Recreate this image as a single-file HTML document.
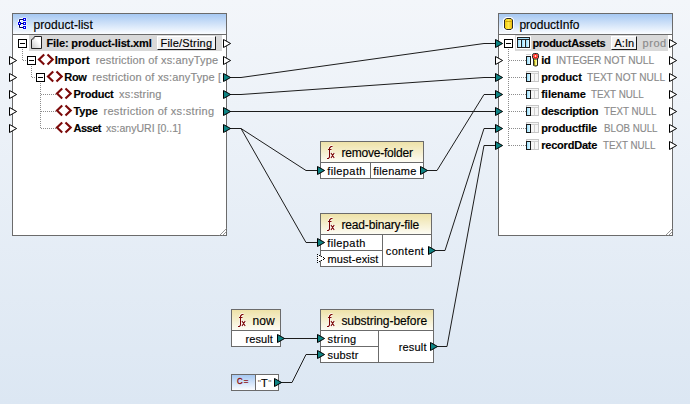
<!DOCTYPE html>
<html><head><meta charset="utf-8">
<style>
*{margin:0;padding:0;box-sizing:border-box}
html,body{width:690px;height:404px;overflow:hidden}
body{position:relative;background:linear-gradient(#f3f6fa,#dce7f3);font-family:"Liberation Sans",sans-serif;color:#000;-webkit-text-stroke:0.15px currentColor}
.box{position:absolute;border:1px solid #6b6b6b;background:#fff}
.tb{position:absolute;left:0;right:0;top:0;border-bottom:1px solid #6b6b6b}
.sch{background:linear-gradient(#a6c8f2,#fbfdff)}
.fn{background:linear-gradient(#eee2a8,#fdfcf4)}
.r{position:absolute}
.t{position:absolute;font-size:11px;line-height:12px;white-space:nowrap;z-index:5}
.b{font-weight:bold}
.g{color:#8a8a8a}
.tt{position:absolute;font-size:12px;line-height:14px;white-space:nowrap;z-index:5}
svg{position:absolute;left:0;top:0}
</style></head><body>

<svg width="690" height="404" style="z-index:1">
<g fill="none" stroke="#1c1c1c" stroke-width="1">
<polyline points="226,77.5 241,77.5 484,43.5 498,43.5"/><polyline points="226,94.5 241,94.5 484,77.5 498,77.5"/><polyline points="226,111.5 498,111.5"/><polyline points="226,128.5 241,128.5 306,170.5 320,170.5"/><polyline points="226,128.5 241,128.5 306,242.5 320,242.5"/><polyline points="423,170.5 437,170.5 484,94.5 498,94.5"/><polyline points="431,250.5 445,250.5 484,128.5 498,128.5"/><polyline points="280,338.5 320,338.5"/><polyline points="278,382.5 292,382.5 306,354.5 320,354.5"/><polyline points="433,346.5 447,346.5 484,145.5 498,145.5"/>
</g>
</svg>

<!-- product-list -->
<div class="box" style="left:12px;top:13px;width:215px;height:223px;z-index:2"><div class="tb sch" style="height:21px"></div></div>
<div class="r" style="left:29px;top:35px;width:193px;height:16px;background:#d9d9d9;z-index:3"></div>
<div class="r" style="left:157px;top:36px;width:59px;height:14px;background:#f2f2f2;border-top:1px solid #fff;border-left:1px solid #fff;border-right:1px solid #1a1a1a;border-bottom:1px solid #1a1a1a;z-index:3"></div>

<!-- productInfo -->
<div class="box" style="left:498px;top:13px;width:175px;height:223px;z-index:2"><div class="tb sch" style="height:21px"></div></div>
<div class="r" style="left:515px;top:35px;width:153px;height:16px;background:#d9d9d9;z-index:3"></div>
<div class="r" style="left:516px;top:36px;width:15px;height:13px;background:#fff;z-index:3"></div>
<div class="r" style="left:611px;top:36px;width:26px;height:14px;background:#f2f2f2;border-top:1px solid #fff;border-left:1px solid #fff;border-right:1px solid #1a1a1a;border-bottom:1px solid #1a1a1a;z-index:3"></div>

<!-- remove-folder -->
<div class="box" style="left:320px;top:141px;width:104px;height:38px;z-index:2"><div class="tb fn" style="height:21px"></div>
<div class="r" style="left:49px;top:21px;width:1px;height:16px;background:#6b6b6b"></div></div>

<!-- read-binary-file -->
<div class="box" style="left:320px;top:213px;width:112px;height:54px;z-index:2"><div class="tb fn" style="height:21px"></div>
<div class="r" style="left:61px;top:21px;width:1px;height:32px;background:#6b6b6b"></div>
<div class="r" style="left:0px;top:36px;width:61px;height:1px;background:#6b6b6b"></div></div>

<!-- now -->
<div class="box" style="left:231px;top:309px;width:50px;height:38px;z-index:2"><div class="tb fn" style="height:21px"></div></div>

<!-- substring-before -->
<div class="box" style="left:320px;top:309px;width:114px;height:54px;z-index:2"><div class="tb fn" style="height:21px"></div>
<div class="r" style="left:57px;top:21px;width:1px;height:32px;background:#6b6b6b"></div>
<div class="r" style="left:0px;top:36px;width:57px;height:1px;background:#6b6b6b"></div></div>

<!-- constant -->
<div class="box" style="left:231px;top:374px;width:48px;height:17px;z-index:2">
<div class="r sch" style="left:0;top:0;width:24px;height:15px;border-right:1px solid #6b6b6b"></div></div>
<div class="t" style="left:236.5px;top:376px;font-size:9.5px;line-height:10px;color:#8b0a0a;z-index:5;-webkit-text-stroke:0.35px #8b0a0a;transform:scaleX(0.82);transform-origin:0 0;letter-spacing:1.4px">C=</div>
<div class="t" style="left:257.8px;top:377px;z-index:5"><span style="color:#666;font-size:9px;-webkit-text-stroke:0;position:relative;top:-1px">"</span><span style="letter-spacing:0.4px">T</span><span style="color:#666;font-size:9px;-webkit-text-stroke:0;position:relative;top:-1px">"</span></div>

<svg width="690" height="404" style="z-index:4">
<g><path d="M19.5,19.5 V27.5 M19.5,19.5 H24 M19.5,23.5 H24 M19.5,27.5 H24" stroke="#fff" stroke-width="3" fill="none" opacity="0.9"/><g fill="#fff" stroke="#fff" stroke-width="2.2" stroke-linejoin="round" opacity="0.9"><rect x="23.5" y="18.5" width="2" height="2"/><rect x="18.5" y="22.5" width="2" height="2"/><rect x="23.5" y="22.5" width="2" height="2"/><rect x="23.5" y="26.5" width="2" height="2"/></g><path d="M19.5,19.5 V27.5 M19.5,19.5 H24 M19.5,23.5 H24 M19.5,27.5 H24" stroke="#000050" stroke-width="1" fill="none"/><rect x="23.5" y="18.5" width="2" height="2" fill="#fff" stroke="#0000f0"/><rect x="18.5" y="22.5" width="2" height="2" fill="#fff" stroke="#0000f0"/><rect x="23.5" y="22.5" width="2" height="2" fill="#fff" stroke="#0000f0"/><rect x="23.5" y="26.5" width="2" height="2" fill="#fff" stroke="#0000f0"/></g><defs><linearGradient id="dg" x1="1" y1="0" x2="0" y2="1"><stop offset="0.35" stop-color="#fff"/><stop offset="1" stop-color="#c4c4c4"/></linearGradient><linearGradient id="tg" x1="0" y1="0" x2="0" y2="1"><stop offset="0" stop-color="#8fd6ff"/><stop offset="1" stop-color="#e6f9ff"/></linearGradient><linearGradient id="cg" x1="0" y1="0" x2="1" y2="0"><stop offset="0" stop-color="#8fdcff"/><stop offset="1" stop-color="#e8fbff"/></linearGradient><linearGradient id="cyl" x1="0" y1="0" x2="1" y2="0"><stop offset="0" stop-color="#f0c400"/><stop offset="0.5" stop-color="#ffe84a"/><stop offset="1" stop-color="#e8b400"/></linearGradient></defs><path d="M34.5,36.5 H41.5 V48.5 H31.5 V39.5 Z" fill="url(#dg)" stroke="#222"/><path d="M31.5,39.5 Q34.5,39.5 34.5,36.5" fill="#fff" stroke="#444"/><path d="M506.5,18.5 H511 L512.5,20 V28 L511,29.5 H506.5 L504.5,28 V20 Z" fill="none" stroke="#fff" stroke-width="3" stroke-linejoin="round"/><path d="M506.5,18.5 H511 L512.5,20 V28 L511,29.5 H506.5 L504.5,28 V20 Z" fill="url(#cyl)" stroke="#2a2a2a"/><path d="M505.5,21.5 H511.5" stroke="#c49a00" stroke-width="1" opacity="0.8"/><rect x="517.5" y="37.5" width="12" height="10" fill="#a8e0fa" stroke="#222"/><rect x="518" y="40" width="3" height="7" fill="url(#cg)"/><rect x="522" y="40" width="3" height="7" fill="url(#cg)"/><rect x="526" y="40" width="3" height="7" fill="url(#cg)"/><line x1="518" y1="39.5" x2="529" y2="39.5" stroke="#222"/><line x1="521.5" y1="40" x2="521.5" y2="47" stroke="#222"/><line x1="525.5" y1="40" x2="525.5" y2="47" stroke="#222"/><rect x="526" y="54" width="5" height="1" fill="#d4d4d4"/><rect x="526.5" y="56.5" width="4" height="8" fill="url(#cg)" stroke="#1a1a1a"/><path d="M533.5,65.5 V59" stroke="#222" stroke-width="1"/><path d="M533.5,58.5 H537.5 V65.5 L536,66 H534.5 L533.5,65 L534.3,64 L533.5,63 L534.3,62 L533.5,61 Z" fill="#e6dc1c" stroke="#222" stroke-width="1"/><rect x="535.5" y="59" width="1.5" height="6" fill="#fbf7a0"/><rect x="532.5" y="53.5" width="6" height="5.5" rx="1.8" fill="#ffa282" stroke="#222"/><circle cx="535.5" cy="56.2" r="1.7" fill="none" stroke="#ff1010" stroke-width="1.1"/><rect x="535" y="55.5" width="1" height="1" fill="#fff"/><rect x="526.5" y="71.5" width="12" height="10" fill="#f6f6f6" stroke="#c6c6c6"/><line x1="527" y1="73.5" x2="538" y2="73.5" stroke="#d0d0d0"/><line x1="534.5" y1="74" x2="534.5" y2="81" stroke="#d0d0d0"/><rect x="526.5" y="73.5" width="4" height="8" fill="url(#cg)" stroke="#1a1a1a"/><rect x="526.5" y="88.5" width="12" height="10" fill="#f6f6f6" stroke="#c6c6c6"/><line x1="527" y1="90.5" x2="538" y2="90.5" stroke="#d0d0d0"/><line x1="534.5" y1="91" x2="534.5" y2="98" stroke="#d0d0d0"/><rect x="526.5" y="90.5" width="4" height="8" fill="url(#cg)" stroke="#1a1a1a"/><rect x="526.5" y="105.5" width="12" height="10" fill="#f6f6f6" stroke="#c6c6c6"/><line x1="527" y1="107.5" x2="538" y2="107.5" stroke="#d0d0d0"/><line x1="534.5" y1="108" x2="534.5" y2="115" stroke="#d0d0d0"/><rect x="526.5" y="107.5" width="4" height="8" fill="url(#cg)" stroke="#1a1a1a"/><rect x="526.5" y="122.5" width="12" height="10" fill="#f6f6f6" stroke="#c6c6c6"/><line x1="527" y1="124.5" x2="538" y2="124.5" stroke="#d0d0d0"/><line x1="534.5" y1="125" x2="534.5" y2="132" stroke="#d0d0d0"/><rect x="526.5" y="124.5" width="4" height="8" fill="url(#cg)" stroke="#1a1a1a"/><rect x="526.5" y="139.5" width="12" height="10" fill="#f6f6f6" stroke="#c6c6c6"/><line x1="527" y1="141.5" x2="538" y2="141.5" stroke="#d0d0d0"/><line x1="534.5" y1="142" x2="534.5" y2="149" stroke="#d0d0d0"/><rect x="526.5" y="141.5" width="4" height="8" fill="url(#cg)" stroke="#1a1a1a"/><path d="M332.5,146.5 H331 L329.5,148 V157 L328.5,158.5 H327 M328,149.5 H331.5 M331,153 L334.2,158 M334.2,153 L331,158" fill="none" stroke="#fff" stroke-width="3" opacity="0.7"/><path d="M332.5,146.5 H331 L329.5,148 V157 L328.5,158.5 H327 M328,149.5 H331.5 M331,153 L334.2,158 M334.2,153 L331,158" fill="none" stroke="#7a0505" stroke-width="1.1"/><path d="M332.5,218.5 H331 L329.5,220 V229 L328.5,230.5 H327 M328,221.5 H331.5 M331,225 L334.2,230 M334.2,225 L331,230" fill="none" stroke="#fff" stroke-width="3" opacity="0.7"/><path d="M332.5,218.5 H331 L329.5,220 V229 L328.5,230.5 H327 M328,221.5 H331.5 M331,225 L334.2,230 M334.2,225 L331,230" fill="none" stroke="#7a0505" stroke-width="1.1"/><path d="M243.5,314.5 H242 L240.5,316 V325 L239.5,326.5 H238 M239,317.5 H242.5 M242,321 L245.2,326 M245.2,321 L242,326" fill="none" stroke="#fff" stroke-width="3" opacity="0.7"/><path d="M243.5,314.5 H242 L240.5,316 V325 L239.5,326.5 H238 M239,317.5 H242.5 M242,321 L245.2,326 M245.2,321 L242,326" fill="none" stroke="#7a0505" stroke-width="1.1"/><path d="M332.5,314.5 H331 L329.5,316 V325 L328.5,326.5 H327 M328,317.5 H331.5 M331,321 L334.2,326 M334.2,321 L331,326" fill="none" stroke="#fff" stroke-width="3" opacity="0.7"/><path d="M332.5,314.5 H331 L329.5,316 V325 L328.5,326.5 H327 M328,317.5 H331.5 M331,321 L334.2,326 M334.2,321 L331,326" fill="none" stroke="#7a0505" stroke-width="1.1"/><line x1="219.5" y1="235.5" x2="226.5" y2="228.5" stroke="#8a8a8a" stroke-width="0.9"/><line x1="222.5" y1="235.5" x2="226.5" y2="231.5" stroke="#8a8a8a" stroke-width="0.9"/><line x1="665.5" y1="235.5" x2="672.5" y2="228.5" stroke="#8a8a8a" stroke-width="0.9"/><line x1="668.5" y1="235.5" x2="672.5" y2="231.5" stroke="#8a8a8a" stroke-width="0.9"/>
<line x1="22.5" y1="49" x2="22.5" y2="61" stroke="#8c8c8c" stroke-dasharray="1,1"/><line x1="23" y1="60.5" x2="27" y2="60.5" stroke="#8c8c8c" stroke-dasharray="1,1"/><line x1="31.5" y1="66" x2="31.5" y2="78" stroke="#8c8c8c" stroke-dasharray="1,1"/><line x1="32" y1="77.5" x2="36" y2="77.5" stroke="#8c8c8c" stroke-dasharray="1,1"/><line x1="40.5" y1="83" x2="40.5" y2="129" stroke="#8c8c8c" stroke-dasharray="1,1"/><line x1="41" y1="94.5" x2="56" y2="94.5" stroke="#8c8c8c" stroke-dasharray="1,1"/><line x1="41" y1="111.5" x2="56" y2="111.5" stroke="#8c8c8c" stroke-dasharray="1,1"/><line x1="41" y1="128.5" x2="56" y2="128.5" stroke="#8c8c8c" stroke-dasharray="1,1"/><line x1="508.5" y1="49" x2="508.5" y2="146" stroke="#8c8c8c" stroke-dasharray="1,1"/><line x1="509" y1="60.5" x2="526" y2="60.5" stroke="#8c8c8c" stroke-dasharray="1,1"/><line x1="509" y1="77.5" x2="526" y2="77.5" stroke="#8c8c8c" stroke-dasharray="1,1"/><line x1="509" y1="94.5" x2="526" y2="94.5" stroke="#8c8c8c" stroke-dasharray="1,1"/><line x1="509" y1="111.5" x2="526" y2="111.5" stroke="#8c8c8c" stroke-dasharray="1,1"/><line x1="509" y1="128.5" x2="526" y2="128.5" stroke="#8c8c8c" stroke-dasharray="1,1"/><line x1="509" y1="145.5" x2="526" y2="145.5" stroke="#8c8c8c" stroke-dasharray="1,1"/><rect x="18.5" y="39.5" width="8" height="8" fill="#fff" stroke="#000"/><line x1="20" y1="43.5" x2="25" y2="43.5" stroke="#000"/><rect x="27.5" y="56.5" width="8" height="8" fill="#fff" stroke="#000"/><line x1="29" y1="60.5" x2="34" y2="60.5" stroke="#000"/><rect x="36.5" y="73.5" width="8" height="8" fill="#fff" stroke="#000"/><line x1="38" y1="77.5" x2="43" y2="77.5" stroke="#000"/><rect x="504.5" y="39.5" width="8" height="8" fill="#fff" stroke="#000"/><line x1="506" y1="43.5" x2="511" y2="43.5" stroke="#000"/><polyline points="44.2,54.4 39,59.4 44.2,64.4" fill="none" stroke="#7b0909" stroke-width="2.15"/><polyline points="47.5,54.4 52.7,59.4 47.5,64.4" fill="none" stroke="#7b0909" stroke-width="2.15"/><polyline points="53.2,71.4 48,76.4 53.2,81.4" fill="none" stroke="#7b0909" stroke-width="2.15"/><polyline points="56.5,71.4 61.7,76.4 56.5,81.4" fill="none" stroke="#7b0909" stroke-width="2.15"/><polyline points="62.2,88.4 57,93.4 62.2,98.4" fill="none" stroke="#7b0909" stroke-width="2.15"/><polyline points="65.5,88.4 70.7,93.4 65.5,98.4" fill="none" stroke="#7b0909" stroke-width="2.15"/><polyline points="62.2,105.4 57,110.4 62.2,115.4" fill="none" stroke="#7b0909" stroke-width="2.15"/><polyline points="65.5,105.4 70.7,110.4 65.5,115.4" fill="none" stroke="#7b0909" stroke-width="2.15"/><polyline points="62.2,122.4 57,127.4 62.2,132.4" fill="none" stroke="#7b0909" stroke-width="2.15"/><polyline points="65.5,122.4 70.7,127.4 65.5,132.4" fill="none" stroke="#7b0909" stroke-width="2.15"/>
<g stroke="#000" stroke-width="1" stroke-linejoin="miter"><polygon points="9.5,56.5 16.6,60.5 9.5,64.5" fill="#fff"/><polygon points="9.5,73.5 16.6,77.5 9.5,81.5" fill="#fff"/><polygon points="9.5,90.5 16.6,94.5 9.5,98.5" fill="#fff"/><polygon points="9.5,107.5 16.6,111.5 9.5,115.5" fill="#fff"/><polygon points="9.5,124.5 16.6,128.5 9.5,132.5" fill="#fff"/><polygon points="223.5,39.5 230.6,43.5 223.5,47.5" fill="#fff"/><polygon points="223.5,56.5 230.6,60.5 223.5,64.5" fill="#fff"/><polygon points="223.5,73.5 230.6,77.5 223.5,81.5" fill="#0e8383"/><polygon points="223.5,90.5 230.6,94.5 223.5,98.5" fill="#0e8383"/><polygon points="223.5,107.5 230.6,111.5 223.5,115.5" fill="#0e8383"/><polygon points="223.5,124.5 230.6,128.5 223.5,132.5" fill="#0e8383"/><polygon points="495.5,39.5 502.6,43.5 495.5,47.5" fill="#0e8383"/><polygon points="495.5,56.5 502.6,60.5 495.5,64.5" fill="#fff"/><polygon points="495.5,73.5 502.6,77.5 495.5,81.5" fill="#0e8383"/><polygon points="495.5,90.5 502.6,94.5 495.5,98.5" fill="#0e8383"/><polygon points="495.5,107.5 502.6,111.5 495.5,115.5" fill="#0e8383"/><polygon points="495.5,124.5 502.6,128.5 495.5,132.5" fill="#0e8383"/><polygon points="495.5,141.5 502.6,145.5 495.5,149.5" fill="#0e8383"/><polygon points="669.5,39.5 676.6,43.5 669.5,47.5" fill="#fff"/><polygon points="669.5,56.5 676.6,60.5 669.5,64.5" fill="#fff"/><polygon points="669.5,73.5 676.6,77.5 669.5,81.5" fill="#fff"/><polygon points="669.5,90.5 676.6,94.5 669.5,98.5" fill="#fff"/><polygon points="669.5,107.5 676.6,111.5 669.5,115.5" fill="#fff"/><polygon points="669.5,124.5 676.6,128.5 669.5,132.5" fill="#fff"/><polygon points="669.5,141.5 676.6,145.5 669.5,149.5" fill="#fff"/><polygon points="317.5,166.5 324.6,170.5 317.5,174.5" fill="#0e8383"/><polygon points="420.5,166.5 427.6,170.5 420.5,174.5" fill="#0e8383"/><polygon points="317.5,238.5 324.6,242.5 317.5,246.5" fill="#0e8383"/><polygon points="318,255 324,258.5 318,262" fill="#fff" stroke="none"/><rect x="317" y="254" width="1" height="1" fill="#000" stroke="none"/><rect x="317" y="256" width="1" height="1" fill="#000" stroke="none"/><rect x="317" y="258" width="1" height="1" fill="#000" stroke="none"/><rect x="317" y="260" width="1" height="1" fill="#000" stroke="none"/><rect x="317" y="262" width="1" height="1" fill="#000" stroke="none"/><rect x="319" y="255" width="1" height="1" fill="#000" stroke="none"/><rect x="321" y="256" width="1" height="1" fill="#000" stroke="none"/><rect x="323" y="257" width="1" height="1" fill="#000" stroke="none"/><rect x="324" y="258" width="1" height="1" fill="#000" stroke="none"/><rect x="323" y="259" width="1" height="1" fill="#000" stroke="none"/><rect x="321" y="260" width="1" height="1" fill="#000" stroke="none"/><rect x="319" y="261" width="1" height="1" fill="#000" stroke="none"/><polygon points="428.5,246.5 435.6,250.5 428.5,254.5" fill="#0e8383"/><polygon points="277.5,334.5 284.6,338.5 277.5,342.5" fill="#0e8383"/><polygon points="317.5,334.5 324.6,338.5 317.5,342.5" fill="#0e8383"/><polygon points="317.5,350.5 324.6,354.5 317.5,358.5" fill="#0e8383"/><polygon points="430.5,342.5 437.6,346.5 430.5,350.5" fill="#0e8383"/><polygon points="274.5,378.5 281.6,382.5 274.5,386.5" fill="#0e8383"/></g>
</svg>

<div class="tt" style="left:33.5px;top:18px;letter-spacing:0.05px;">product-list</div><div class="t b" style="left:46.5px;top:37px;letter-spacing:-0.14px;">File: product-list.xml</div><div class="t" style="left:160.5px;top:37px;letter-spacing:0.20px;">File/String</div><div class="t b" style="left:54.7px;top:54px;letter-spacing:0.13px;">Import</div><div class="t g" style="left:95.7px;top:54px;letter-spacing:0.16px;">restriction of xs:anyType</div><div class="t b" style="left:64.3px;top:71px;letter-spacing:-0.34px;">Row</div><div class="t g" style="left:92.3px;top:71px;letter-spacing:0.16px;">restriction of xs:anyType [</div><div class="t b" style="left:73.5px;top:88px;letter-spacing:-0.22px;">Product</div><div class="t g" style="left:119.1px;top:88px;letter-spacing:0.18px;">xs:string</div><div class="t b" style="left:73.5px;top:105px;letter-spacing:-0.16px;">Type</div><div class="t g" style="left:103.5px;top:105px;letter-spacing:0.29px;">restriction of xs:string</div><div class="t b" style="left:73.5px;top:122px;letter-spacing:-0.51px;">Asset</div><div class="t g" style="left:106.1px;top:122px;transform:scaleX(0.958);transform-origin:0 0;">xs:anyURI [0..1]</div><div class="tt" style="left:519.4px;top:18px;">productInfo</div><div class="t b" style="left:532.4px;top:37px;letter-spacing:-0.31px;">productAssets</div><div class="t" style="left:614.5px;top:37px;">A:In</div><div class="t g" style="left:642.5px;top:37px;letter-spacing:0.57px;">prod</div><div class="t b" style="left:541.2px;top:54px;letter-spacing:-0.24px;">id</div><div class="t g" style="left:556.4px;top:54px;transform:scaleX(0.925);transform-origin:0 0;">INTEGER NOT NULL</div><div class="t b" style="left:541.2px;top:71px;letter-spacing:-0.05px;">product</div><div class="t g" style="left:587px;top:71px;transform:scaleX(0.916);transform-origin:0 0;">TEXT NOT NULL</div><div class="t b" style="left:541.2px;top:88px;">filename</div><div class="t g" style="left:591px;top:88px;transform:scaleX(0.893);transform-origin:0 0;">TEXT NULL</div><div class="t b" style="left:541.2px;top:105px;letter-spacing:-0.21px;">description</div><div class="t g" style="left:604px;top:105px;transform:scaleX(0.888);transform-origin:0 0;">TEXT NULL</div><div class="t b" style="left:541.2px;top:122px;letter-spacing:-0.08px;">productfile</div><div class="t g" style="left:603.7px;top:122px;transform:scaleX(0.884);transform-origin:0 0;">BLOB NULL</div><div class="t b" style="left:541.2px;top:139px;letter-spacing:-0.21px;">recordDate</div><div class="t g" style="left:603.2px;top:139px;transform:scaleX(0.888);transform-origin:0 0;">TEXT NULL</div><div class="tt" style="left:341.4px;top:146px;letter-spacing:-0.21px;">remove-folder</div><div class="t" style="left:327.2px;top:165px;letter-spacing:0.40px;">filepath</div><div class="t" style="left:373.3px;top:165px;letter-spacing:0.20px;">filename</div><div class="tt" style="left:341.4px;top:218px;letter-spacing:-0.15px;">read-binary-file</div><div class="t" style="left:327.2px;top:237px;letter-spacing:0.40px;">filepath</div><div class="t" style="left:327.6px;top:253px;letter-spacing:0.07px;">must-exist</div><div class="t" style="left:385.8px;top:245px;letter-spacing:0.34px;">content</div><div class="tt" style="left:252.6px;top:314px;letter-spacing:0.09px;">now</div><div class="t" style="left:245.6px;top:333px;letter-spacing:0.08px;">result</div><div class="tt" style="left:341.4px;top:314px;letter-spacing:-0.07px;">substring-before</div><div class="t" style="left:327.6px;top:333px;letter-spacing:0.35px;">string</div><div class="t" style="left:327.6px;top:349px;letter-spacing:0.17px;">substr</div><div class="t" style="left:398.7px;top:341px;letter-spacing:0.18px;">result</div>

</body></html>
